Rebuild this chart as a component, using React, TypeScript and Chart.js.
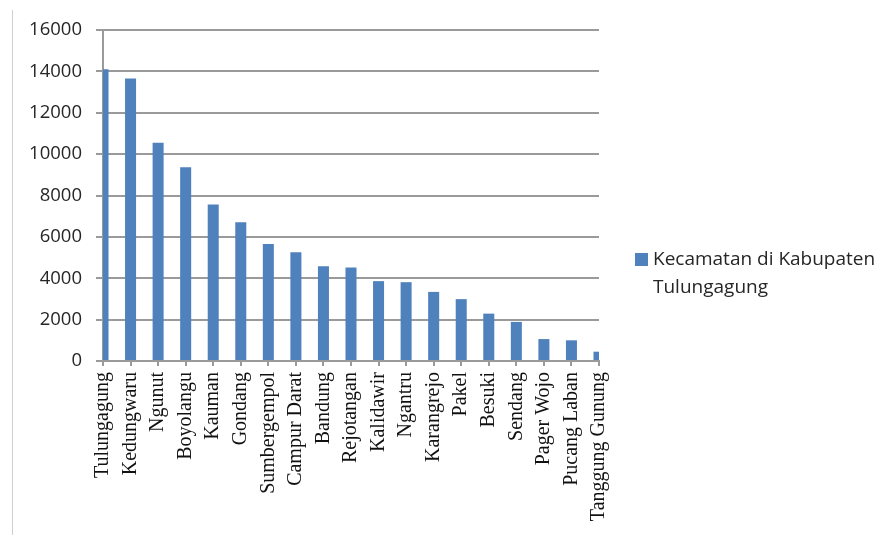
import React, { useEffect, useRef } from "react";
import { Chart, registerables } from "chart.js";

Chart.register(...registerables);

const categories: string[] = [
  "Tulungagung",
  "Kedungwaru",
  "Ngunut",
  "Boyolangu",
  "Kauman",
  "Gondang",
  "Sumbergempol",
  "Campur Darat",
  "Bandung",
  "Rejotangan",
  "Kalidawir",
  "Ngantru",
  "Karangrejo",
  "Pakel",
  "Besuki",
  "Sendang",
  "Pager Wojo",
  "Pucang Laban",
  "Tanggung Gunung",
];

const seriesValues: number[] = [
  14100, 13650, 10550, 9370, 7570, 6710, 5650, 5260, 4580, 4520, 3860, 3810,
  3340, 2990, 2290, 1890, 1060, 1000, 450,
];

const seriesLabel = "Kecamatan di Kabupaten Tulungagung";
const yTicks: number[] = [0, 2000, 4000, 6000, 8000, 10000, 12000, 14000, 16000];

const BAR_COLOR = "#4F81BD";
const GRID_COLOR = "#9a9a9a";

const sideLegend = {
  id: "sideLegend",
  afterDraw(chart: any) {
    const { ctx, chartArea } = chart;
    const ds = chart.data.datasets[0];
    ctx.save();
    ctx.font = "19px 'Open Sans'";
    ctx.fillStyle = "#262626";
    ctx.textBaseline = "middle";
    ctx.textAlign = "left";
    const words = String(ds.label).split(" ");
    const maxW = 232;
    const lines: string[] = [];
    let cur = "";
    for (const w of words) {
      const test = cur ? cur + " " + w : w;
      if (ctx.measureText(test).width > maxW && cur) {
        lines.push(cur);
        cur = w;
      } else cur = test;
    }
    if (cur) lines.push(cur);
    const boxX = chartArea.right + 36;
    const textX = chartArea.right + 54;
    const y0 = chart.height / 2 - 8;
    const lh = 28;
    ctx.fillStyle = ds.backgroundColor;
    ctx.fillRect(boxX, y0 - 6.5, 13, 13);
    ctx.fillStyle = "#262626";
    lines.forEach((l, i) => ctx.fillText(l, textX, y0 + i * lh));
    ctx.restore();
  },
};

export default function App() {
  const ref = useRef<HTMLCanvasElement | null>(null);
  useEffect(() => {
    if (!ref.current) return;
    const chart = new Chart(ref.current, {
      type: "bar",
      data: {
        labels: categories,
        datasets: [
          {
            label: seriesLabel,
            data: seriesValues,
            backgroundColor: BAR_COLOR,
            borderWidth: 0,
            categoryPercentage: 1,
            barPercentage: 0.4,
          },
        ],
      },
      options: {
        responsive: false,
        animation: false,
        layout: { padding: { left: 0, right: 291, top: 30, bottom: 0 } },
        plugins: {
          legend: { display: false },
          tooltip: { enabled: false },
        },
        scales: {
          x: {
            offset: false,
            grid: {
              offset: false,
              drawOnChartArea: false,
              drawTicks: true,
              tickLength: 5,
              color: GRID_COLOR,
              lineWidth: 2,
            },
            border: { display: true, color: GRID_COLOR, width: 2 },
            ticks: {
              autoSkip: false,
              minRotation: 90,
              maxRotation: 90,
              padding: 6,
              color: "#111",
              font: { family: "'Liberation Serif'", size: 20 },
            },
            afterFit: (scale: any) => {
              scale.height = 174;
            },
          },
          y: {
            min: 0,
            max: 16000,
            afterBuildTicks: (scale: any) => {
              scale.ticks = yTicks.map((v) => ({ value: v }));
            },
            grid: {
              color: GRID_COLOR,
              lineWidth: 2,
              drawTicks: true,
              tickLength: 7,
            },
            border: { display: true, color: GRID_COLOR, width: 2 },
            ticks: {
              padding: 14,
              color: "#262626",
              font: { family: "'Open Sans'", size: 18.5 },
              callback: (v: any) => String(v),
            },
            afterFit: (scale: any) => {
              scale.width = 103;
            },
          },
        },
      },
      plugins: [sideLegend],
    });
    return () => chart.destroy();
  }, []);

  return (
    <div style={{ position: "fixed", left: 0, top: 0, width: 890, height: 535, background: "#fff" }}>
      <div
        style={{
          position: "absolute",
          left: 12,
          top: 10,
          width: 0,
          height: 525,
          borderLeft: "1px solid #cfcfcf",
        }}
      />
      <canvas ref={ref} width={890} height={535} style={{ position: "absolute", left: 0, top: 0 }} />
    </div>
  );
}
